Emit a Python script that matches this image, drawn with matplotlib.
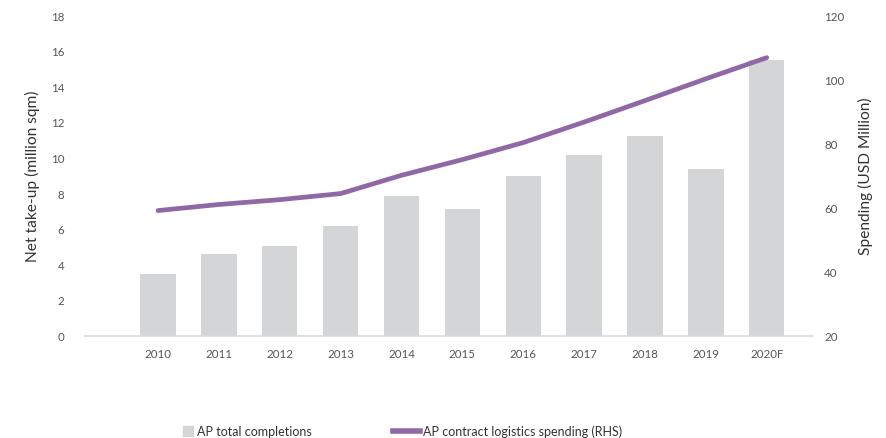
import matplotlib
matplotlib.use("Agg")
import matplotlib.pyplot as plt
from matplotlib.lines import Line2D

years = ["2010", "2011", "2012", "2013", "2014", "2015", "2016", "2017", "2018", "2019", "2020F"]
completions = [3.46, 4.58, 5.05, 6.14, 7.83, 7.11, 8.95, 10.15, 11.22, 9.36, 15.45]
spending = [59.0, 60.9, 62.4, 64.3, 70.0, 74.9, 80.2, 86.6, 93.3, 100.1, 106.7]

bar_color = "#d4d5d7"
line_color = "#9168a6"
tick_color = "#555555"
label_color = "#333333"
font = ["Lato", "DejaVu Sans"]
plt.rcParams["font.family"] = font

fig = plt.figure(figsize=(8.86, 4.39), dpi=100)
ax = fig.add_axes([85 / 886, 1 - 336.6 / 439, (813 - 85) / 886, (336.6 - 16) / 439])
x = list(range(len(years)))
ax.bar(x, completions, width=0.58, color=bar_color, zorder=2)
ax.set_ylim(0, 18)
ax.set_yticks(range(0, 19, 2))
ax.set_xlim(-1.2, 10.76)
ax.set_xticks(x)
ax.set_xticklabels(years)
for s in ["top", "left", "right"]:
    ax.spines[s].set_visible(False)
ax.spines["bottom"].set_color("#d9d9d9")
ax.spines["bottom"].set_linewidth(1.2)
ax.tick_params(axis="both", length=0, labelsize=8.3, labelcolor=tick_color)
ax.tick_params(axis="x", pad=9)
ax.tick_params(axis="y", pad=15)
ax.set_ylabel("Net take-up (million sqm)", fontsize=11.2, color=label_color, labelpad=8)

ax2 = ax.twinx()
ax2.plot(x, spending, color=line_color, linewidth=3.4, solid_capstyle="round", zorder=3)
ax2.set_ylim(20, 120)
ax2.set_yticks(range(20, 121, 20))
for s in ["top", "left", "right", "bottom"]:
    ax2.spines[s].set_visible(False)
ax2.tick_params(axis="y", length=0, labelsize=8.3, labelcolor=tick_color, pad=8)
ax2.set_ylabel("Spending (USD Million)", fontsize=11.2, color=label_color, labelpad=10)

h1 = Line2D([0], [0], color=bar_color, marker="s", markersize=7.5, linestyle="none")
leg1 = fig.legend([h1], ["AP total completions"], loc="center left",
                  bbox_to_anchor=(171 / 886, 1 - 432 / 439), frameon=False, fontsize=9,
                  handlelength=0.9, handletextpad=0.25, labelcolor=label_color)
h2 = Line2D([0], [0], color=line_color, linewidth=4)
leg2 = fig.legend([h2], ["AP contract logistics spending (RHS)"], loc="center left",
                  bbox_to_anchor=(382 / 886, 1 - 432 / 439), frameon=False, fontsize=9,
                  handlelength=2.1, handletextpad=0.3, labelcolor=label_color)

fig.savefig("out.png", dpi=100)
